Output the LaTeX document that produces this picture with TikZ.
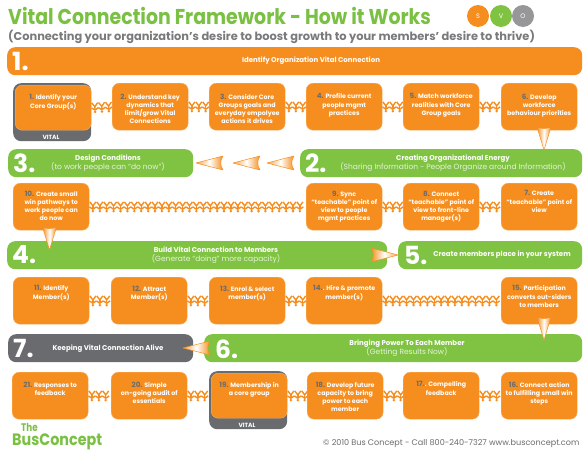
\documentclass[tikz,border=0pt]{standalone}
\usepackage{fontspec}
\setmainfont{Poppins}
\usetikzlibrary{decorations.markings,shadings}
\definecolor{vorange}{HTML}{F68E1F}
\definecolor{vgreen}{HTML}{80C342}
\definecolor{vgray}{HTML}{6A6B6E}
\definecolor{vnum}{HTML}{706C68}
\definecolor{vtitle}{HTML}{7AC143}
\newlength{\rowskip}
\newcommand{\boxtxt}[1]{\parbox[c][39pt][t]{74pt}{\vspace*{\rowskip}\centering\baselineskip=8.2pt #1}}
\newcommand{\nm}[1]{\textcolor{vnum}{\fontsize{7.2}{8.2}\selectfont #1}}
\newcommand{\barhead}[1]{{\fontsize{7}{9}\selectfont\bfseries #1}}
\newcommand{\barsub}[1]{{\fontsize{7.5}{9}\selectfont\color{white!80!vgreen} #1}}
\tikzset{
  x=1pt,y=-1pt,
  stepbox/.style={fill=vorange,draw=vorange!70!white,line width=.4pt,rounded corners=7pt,text=white,anchor=north west,inner sep=1pt,
    font=\fontsize{6.3}{8.2}\selectfont\bfseries,minimum width=76pt,minimum height=47pt},
  vitalbox/.style={fill=vgray,rounded corners=8pt,anchor=north west,inner sep=0pt,minimum width=78pt,minimum height=58pt},
  vitallabel/.style={text=white,font=\fontsize{6}{7}\selectfont\bfseries,inner sep=0pt},
  barbox/.style={fill=#1,rounded corners=8pt,anchor=north west,inner sep=0pt},
  barnum/.style={text=white,font=\fontsize{25}{25}\selectfont\bfseries,inner sep=0pt,anchor=west},
  bartext/.style={text=white,align=center,inner sep=0pt},
  disc/.style={circle,fill=#1,minimum size=22pt,inner sep=0pt,text=white,font=\fontsize{6.5}{7}\selectfont},
  dolls/.style={postaction={decorate,decoration={markings,
    mark=between positions 3.5pt and 1 step 6.9pt with {
      \fill[vorange] (0,4.4) circle (1.4);
      \draw[vorange,line width=1.4pt,line join=round] (-3.45,.2) -- (0,2.5) -- (3.45,.2);
      \draw[vorange,line width=1.4pt,line join=round] (0,2.5) -- (0,-.8);
      \draw[vorange,line width=1.4pt,line join=round] (-3,-4.8) -- (0,-.8) -- (3,-4.8);
    }}}},
  fl/.style={draw=vorange,line width=.5pt,line join=round}
}
\newcommand{\arrowdown}[2]{\draw[fl,left color=vorange,right color=vorange,middle color=white] (#1-7,#2) .. controls (#1-3,#2+2) and (#1+3,#2+2) .. (#1+7,#2) -- (#1,#2+23) -- cycle;}
\newcommand{\arrowleft}[2]{\draw[fl,left color=vorange!80!white,right color=vorange,middle color=white] (#1,#2) -- (#1+27,#2-7) .. controls (#1+24,#2-3) and (#1+24,#2+3) .. (#1+27,#2+7) -- cycle;}
\newcommand{\arrowright}[2]{\draw[fl,left color=vorange,right color=vorange!80!white,middle color=white] (#1,#2) -- (#1-27,#2-7) .. controls (#1-24,#2-3) and (#1-24,#2+3) .. (#1-27,#2+7) -- cycle;}
\begin{document}
\begin{tikzpicture}
\useasboundingbox (0,0) rectangle (584,450);
\fill[white] (0,0) rectangle (584,450);
% title
\node[anchor=base west,inner sep=0pt,text=vtitle,font=\fontsize{21.5}{24}\selectfont\bfseries] (title) at (8,24) {\scalebox{.88}[1]{Vital Connection Framework - How it Works}};
\node[anchor=base west,inner sep=0pt,text=vgray!90!white,font=\fontsize{11.4}{12}\selectfont\bfseries] (subtitle) at (8,40) {(Connecting your organization's desire to boost growth to your members' desire to thrive)};
\node[disc=vgray!70!white] (dO) at (523,16) {O};
\node[disc=vorange] (dS) at (478,16) {S};
\node[disc=vgreen] (dV) at (501,16) {V};
% bars
\node[barbox=vorange,minimum width=575pt,minimum height=28pt] (bar1) at (7,47) {};
\node[barnum] (n1) at (12,61) {1.};
\node[bartext,font=\fontsize{7}{9}\selectfont\bfseries] (t1) at (311,61) {Identify Organization Vital Connection};
\node[barbox=vgreen,minimum width=185pt,minimum height=28pt] (bar3) at (8,149) {};
\node[barnum] (n3) at (13,163) {3.};
\node[bartext] (t3) at (108,163) {\barhead{Design Conditions}\\[-2.500pt]\barsub{(to work people can “do now”)}};
\node[barbox=vgreen,minimum width=282pt,minimum height=28pt] (bar2) at (300,149) {};
\node[barnum] (n2) at (305,163) {2.};
\node[bartext] (t2) at (453,163) {\barhead{Creating Organizational Energy}\\[-2.500pt]\barsub{(Sharing Information - People Organize around Information)}};
\node[barbox=vgreen,minimum width=380pt,minimum height=28pt] (bar4) at (7,241) {};
\node[barnum] (n4) at (12,255) {4.};
\node[bartext] (t4) at (216,255) {\barhead{Build Vital Connection to Members}\\[-2.500pt]\barsub{(Generate “doing” more capacity)}};
\node[barbox=vgreen,minimum width=184pt,minimum height=28pt] (bar5) at (398,241) {};
\node[barnum] (n5) at (404,255) {5.};
\node[bartext,font=\fontsize{7}{9}\selectfont\bfseries] (t5) at (502,254.500) {Create members place in your system};
\node[barbox=vgray,minimum width=185pt,minimum height=28pt] (bar7) at (8,334) {};
\node[barnum] (n7) at (13,348) {7.};
\node[bartext,font=\fontsize{7}{9}\selectfont\bfseries] (t7) at (108,349) {Keeping Vital Connection Alive};
\node[barbox=vgreen,minimum width=378pt,minimum height=28pt] (bar6) at (204,334) {};
\node[barnum] (n6) at (215,349) {6.};
\node[bartext] (t6) at (407,348) {\barhead{Bringing Power To Each Member}\\[-2.500pt]\barsub{(Getting Results Now)}};
% vital backings
\node[vitalbox] (v1) at (13,83) {};
\node[vitallabel] (v1t) at (51,137) {VITAL};
\node[vitalbox] (v19) at (209,371) {};
\node[vitallabel] (v19t) at (247,425) {VITAL};
% row 1
\setlength{\rowskip}{6.5pt}
\node[stepbox,minimum width=74pt,minimum height=45pt] (s1) at (15,85) {\boxtxt{\nm{1.} Identify your\\Core Group(s)}};
\node[stepbox] (s2) at (112,83) {\boxtxt{\nm{2.} Understand key\\dynamics that\\limit/grow Vital\\Connections}};
\node[stepbox] (s3) at (209,83) {\boxtxt{\nm{3.} Consider Core\\Groups goals and\\everyday empolyee\\actions it drives}};
\node[stepbox] (s4) at (306,83) {\boxtxt{\nm{4.} Profile current\\people mgmt\\practices}};
\node[stepbox] (s5) at (403,83) {\boxtxt{\nm{5.} Match workforce\\realities with Core\\Group goals}};
\node[stepbox] (s6) at (501,83) {\boxtxt{\nm{6.} Develop\\workforce\\behaviour priorities}};
% row 2
\setlength{\rowskip}{3.5pt}
\node[stepbox] (s10) at (13,183) {\boxtxt{\nm{10.} Create small\\win pathways to\\work people can\\do now}};
\node[stepbox] (s9) at (306,183) {\boxtxt{\nm{9.} Sync\\“teachable” point of\\view to people\\mgmt practices}};
\node[stepbox] (s8) at (403,183) {\boxtxt{\nm{8.} Connect\\“teachable” point of\\view to front-line\\manager(s)}};
\node[stepbox] (s7) at (501,183) {\boxtxt{\nm{7.} Create\\“teachable” point of\\view}};
% row 3
\setlength{\rowskip}{4.5pt}
\node[stepbox] (s11) at (13,277) {\boxtxt{\nm{11.} Identify\\Member(s)}};
\node[stepbox] (s12) at (111,277) {\boxtxt{\nm{12.} Attract\\Member(s)}};
\node[stepbox] (s13) at (209,277) {\boxtxt{\nm{13.} Enrol \& select\\member(s)}};
\node[stepbox] (s14) at (306,277) {\boxtxt{\nm{14.}. Hire \& promote\\member(s)}};
\node[stepbox] (s15) at (501,277) {\boxtxt{\nm{15.} Participation\\converts out-siders\\to members}};
% row 4
\setlength{\rowskip}{5.5pt}
\node[stepbox] (s21) at (12,372) {\boxtxt{\nm{21.} Responses to\\feedback}};
\node[stepbox] (s20) at (111,372) {\boxtxt{\nm{20.} Simple\\on-going audit of\\essentials}};
\node[stepbox,minimum width=74pt,minimum height=45pt] (s19) at (211,373) {\boxtxt{\nm{19.} Membership in\\a core group}};
\node[stepbox] (s18) at (307,372) {\boxtxt{\nm{18.} Develop future\\capacity to bring\\power to each\\member}};
\node[stepbox] (s17) at (403,372) {\boxtxt{\nm{17.}. Compelling\\feedback}};
\node[stepbox] (s16) at (501,372) {\boxtxt{\nm{16.} Connect action\\to fulfilling small win\\steps}};
% chains
\foreach \a/\b in {s1/s2,s2/s3,s3/s4,s4/s5,s5/s6,s10/s9,s9/s8,s8/s7,s11/s12,s12/s13,s13/s14,s14/s15,s21/s20,s20/s19,s19/s18,s18/s17,s17/s16}
  \path[dolls] (\a.east) -- (\b.west);
% arrows
\arrowdown{544}{127}
\arrowdown{49.5}{227}
\arrowdown{544}{317}
\arrowleft{196}{163}
\arrowleft{233}{163}
\arrowleft{267}{163}
\arrowright{398}{255}
\arrowleft{183}{348}
% logo and credit
\node[anchor=base,inner sep=0pt,text=vtitle,font=\fontsize{11}{11}\selectfont\bfseries] (logo1) at (29.500,431.500) {\scalebox{.8}[1]{The}};
\node[anchor=base west,inner sep=0pt,text=vtitle,font=\fontsize{16.5}{17}\selectfont\bfseries] (logo2) at (12,445) {\scalebox{.87}[1]{BusConcept}};
\node[anchor=base west,inner sep=0pt,text=vgray,font=\fontsize{8.1}{9}\selectfont] (credit) at (323,445) {© 2010 Bus Concept - Call 800-240-7327 www.busconcept.com};
\end{tikzpicture}
\end{document}
